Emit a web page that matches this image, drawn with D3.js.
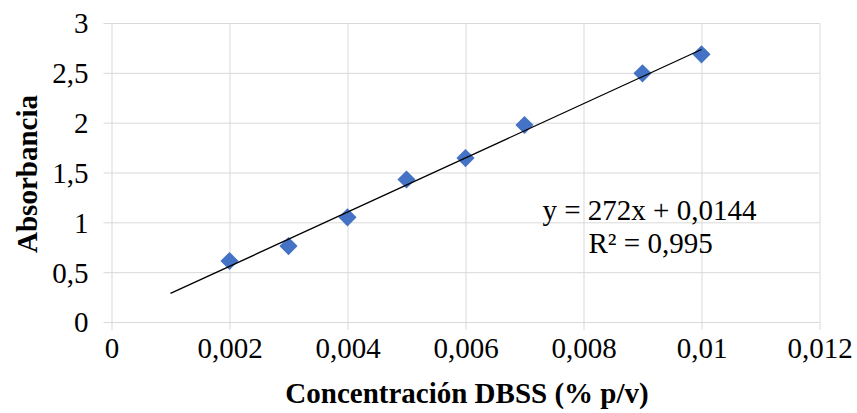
<!DOCTYPE html>
<html>
<head>
<meta charset="utf-8">
<script src="https://cdn.jsdelivr.net/npm/d3@7"></script>
<style>
  body { margin: 0; background: #fff; }
</style>
</head>
<body>
<div id="chart"></div>
<script>
// calibration data
var concentracion = [0.002, 0.003, 0.004, 0.005, 0.006, 0.007, 0.009, 0.01];
var absorbancia = [0.612, 0.762, 1.05, 1.43, 1.645, 1.977, 2.495, 2.686];
var xTicks = [0, 0.002, 0.004, 0.006, 0.008, 0.01, 0.012];
var xTickLabels = ["0", "0,002", "0,004", "0,006", "0,008", "0,01", "0,012"];
var yTicks = [0, 0.5, 1, 1.5, 2, 2.5, 3];
var yTickLabels = ["0", "0,5", "1", "1,5", "2", "2,5", "3"];
var slope = 272;
var intercept = 0.0144;
var trendRange = [0.001, 0.01];

var serif = "'Liberation Serif', 'Times New Roman', serif";

var svgWidth = 857;
var svgHeight = 413;

var margin = { top: 23, left: 111.5, right: 37.5, bottom: 91 };
var width = svgWidth - margin.left - margin.right;
var height = svgHeight - margin.top - margin.bottom;

var svg = d3.select("#chart")
    .append("svg")
    .attr("width", svgWidth)
    .attr("height", svgHeight)
    .attr("font-family", serif);

var chartGroup = svg.append("g")
    .attr("transform", `translate(${margin.left}, ${margin.top})`);

var xScale = d3.scaleLinear().domain([0, 0.012]).range([0, width]);
var yScale = d3.scaleLinear().domain([0, 3]).range([height, 0]);

// gridlines (with the little outside ticks)
var xAxis = d3.axisBottom(xScale)
    .tickValues(xTicks)
    .tickSizeOuter(0)
    .tickFormat((d, i) => xTickLabels[i])
    .tickPadding(16);

var yAxis = d3.axisLeft(yScale)
    .tickValues(yTicks)
    .tickSizeOuter(0)
    .tickFormat((d, i) => yTickLabels[i])
    .tickPadding(15);

var gx = chartGroup.append("g")
    .attr("transform", `translate(0, ${height + 8})`)
    .call(xAxis)
    .attr("font-family", serif)
    .attr("font-size", 29);
gx.select(".domain").remove();
gx.selectAll(".tick line").attr("stroke", "#d9d9d9").attr("y1", 0).attr("y2", -height - 8);
gx.selectAll(".tick text").attr("y", 16).attr("dy", "0.4em");

var gy = chartGroup.append("g")
    .attr("transform", "translate(-8, 0)")
    .call(yAxis)
    .attr("font-family", serif)
    .attr("font-size", 29);
gy.select(".domain").remove();
gy.selectAll(".tick line").attr("stroke", "#d9d9d9").attr("x1", 0).attr("x2", width + 8);
gy.selectAll(".tick text").attr("x", -15).attr("dy", "0.34em");

// markers
var diamond = d3.symbol().type(d3.symbolSquare).size(165);
chartGroup.append("g")
    .selectAll("path")
    .data(concentracion)
    .enter()
    .append("path")
    .attr("d", diamond)
    .attr("transform", (d, i) => `translate(${xScale(d)}, ${yScale(absorbancia[i])}) rotate(45)`)
    .attr("fill", "#4472c4");

// linear trendline
var line = d3.line()
    .x(d => xScale(d))
    .y(d => yScale(slope * d + intercept));
chartGroup.append("path")
    .datum(trendRange)
    .attr("d", line)
    .attr("fill", "none")
    .attr("stroke", "#000")
    .attr("stroke-width", 1.3);

// equation
chartGroup.append("text")
    .attr("x", 431)
    .attr("y", 197)
    .attr("font-size", "29px")
    .text("y = 272x + 0,0144");
chartGroup.append("text")
    .attr("x", 477)
    .attr("y", 230)
    .attr("font-size", "29px")
    .text("R² = 0,995");

// axis titles
svg.append("text")
    .attr("x", 467)
    .attr("y", 403)
    .attr("text-anchor", "middle")
    .attr("font-size", "29px")
    .attr("font-weight", "bold")
    .text("Concentración DBSS (% p/v)");

svg.append("text")
    .attr("transform", "translate(37, 174) rotate(-90)")
    .attr("text-anchor", "middle")
    .attr("font-size", "29px")
    .attr("font-weight", "bold")
    .text("Absorbancia");
</script>
</body>
</html>
